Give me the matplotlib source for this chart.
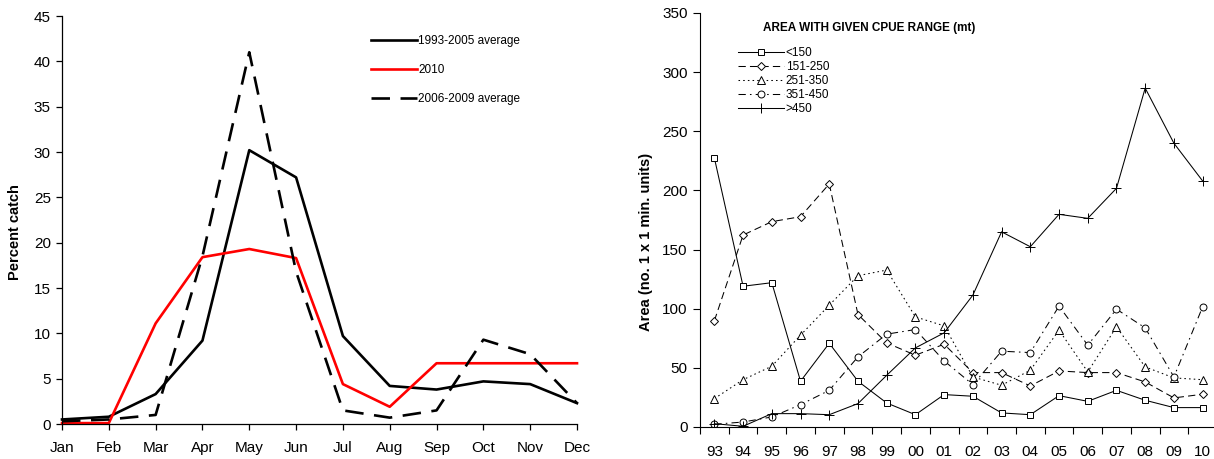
import matplotlib
matplotlib.use("Agg")
import matplotlib.pyplot as plt
import numpy as np

plt.rcParams['font.family'] = ['Liberation Sans', 'DejaVu Sans']

# ---------------- data: left panel ----------------
months = ['Jan', 'Feb', 'Mar', 'Apr', 'May', 'Jun', 'Jul', 'Aug', 'Sep', 'Oct', 'Nov', 'Dec']
avg_1993_2005 = [0.5, 0.8, 3.3, 9.2, 30.2, 27.2, 9.7, 4.2, 3.8, 4.7, 4.4, 2.3]
yr_2010 = [0.1, 0.1, 11.1, 18.4, 19.3, 18.3, 4.4, 1.9, 6.7, 6.7, 6.7, 6.7]
avg_2006_2009 = [0.3, 0.5, 1.0, 18.5, 41.0, 16.8, 1.5, 0.7, 1.5, 9.3, 7.7, 2.3]
left_labels = ['1993-2005 average', '2010', '2006-2009 average']
left_yticks = [0, 5, 10, 15, 20, 25, 30, 35, 40, 45]

# ---------------- data: right panel ----------------
years = ['93', '94', '95', '96', '97', '98', '99', '00', '01', '02',
         '03', '04', '05', '06', '07', '08', '09', '10']
cpue_lt150 = [227.5, 119, 122, 38.7, 70.8, 38.7, 20.3, 10.4, 27.4, 26,
              11.9, 10.4, 26.5, 21.7, 31, 22.6, 16.4, 16.4]
cpue_151_250 = [89.8, 162.3, 173.6, 177.8, 205.5, 95.1, 71.1, 60.7, 70, 46,
                46, 34.7, 47.4, 46, 46, 38.1, 24.6, 27.7]
cpue_251_350 = [24, 40, 51.4, 77.6, 103, 127.9, 132.7, 93.1, 85.5, 42.3,
                35.3, 48, 81.9, 46.6, 84.7, 50.8, 41.5, 40]
cpue_351_450 = [2.3, 4.2, 8.5, 18.9, 31, 59.3, 78.5, 82.4, 55.9, 35.8,
                64.1, 62.9, 102.2, 69.2, 99.6, 83.8, 42.3, 101.6]
cpue_gt450 = [2.8, 0.6, 11.3, 11.3, 10.4, 19.8, 43.7, 66.9, 79.6, 111.5,
              165, 152.4, 179.8, 176.4, 201.8, 286.5, 239.9, 208]
right_labels = ['<150', '151-250', '251-350', '351-450', '>450']
right_yticks = [0, 50, 100, 150, 200, 250, 300, 350]

W, H = 1214, 459
fig = plt.figure(figsize=(W / 100, H / 100), dpi=100)

# ---------------- left panel ----------------
ax1 = fig.add_axes([62 / W, 1 - 424 / H, (577 - 62) / W, (424 - 16) / H])
x = np.arange(len(months))
ax1.plot(x, avg_1993_2005, color='black', lw=1.9, label=left_labels[0], clip_on=False)
ax1.plot(x, yr_2010, color='#ff0000', lw=1.9, label=left_labels[1], clip_on=False)
ax1.plot(x, avg_2006_2009, color='black', lw=1.9, ls=(0, (7, 4)), label=left_labels[2], clip_on=False)
ax1.set_xlim(0, 11)
ax1.set_ylim(0, 45)
ax1.set_xticks(x)
ax1.set_xticklabels(months)
ax1.set_yticks(left_yticks)
ax1.tick_params(axis='x', direction='out', length=4, width=0.9, pad=8, labelsize=11)
ax1.tick_params(axis='y', direction='out', length=4, width=0.9, pad=4, labelsize=11)
for s in ['top', 'right']:
    ax1.spines[s].set_visible(False)
for s in ['left', 'bottom']:
    ax1.spines[s].set_linewidth(0.9)
fig.text(15 / W, 1 - 232 / H, 'Percent catch', rotation=90, ha='center', va='center',
         fontsize=10.5, fontweight='bold')
leg1 = ax1.legend(loc='upper left', bbox_to_anchor=(371 / W, 1 - 35 / H),
                  bbox_transform=fig.transFigure, frameon=False, fontsize=8.5,
                  handlelength=3.9, handletextpad=0.1, labelspacing=1.45, borderpad=0,
                  borderaxespad=0)

# ---------------- right panel ----------------
ax2 = fig.add_axes([700 / W, 1 - 427 / H, 517 / W, (427 - 13) / H])
xr = np.arange(len(years))
mk = dict(markerfacecolor='white', markeredgecolor='black', markeredgewidth=0.7, color='black', lw=0.75)
ax2.plot(xr, cpue_lt150, ls='-', marker='s', markersize=5, label=right_labels[0], **mk)
ax2.plot(xr, cpue_151_250, ls=(0, (7, 4)), marker='D', markersize=3.9, label=right_labels[1], **mk)
ax2.plot(xr, cpue_251_350, ls=(0, (1.5, 3)), marker='^', markersize=6, label=right_labels[2], **mk)
ax2.plot(xr, cpue_351_450, ls=(0, (7, 4, 1.5, 4)), marker='o', markersize=5, label=right_labels[3], **mk)
ax2.plot(xr, cpue_gt450, ls='-', marker='+', markersize=7, label=right_labels[4], **mk)
ax2.set_xlim(-0.5, len(years) - 0.5)
ax2.set_ylim(0, 350)
ax2.set_xticks(np.arange(-0.5, len(years), 1.0))
ax2.set_xticklabels([])
ax2.set_xticks(xr, minor=True)
ax2.set_xticklabels(years, minor=True)
ax2.set_yticks(right_yticks)
ax2.tick_params(axis='x', which='major', direction='out', length=5, width=0.8)
ax2.tick_params(axis='x', which='minor', length=0, pad=13, labelsize=11)
ax2.tick_params(axis='y', direction='out', length=5, width=0.8, pad=4, labelsize=11)
for s in ['top', 'right']:
    ax2.spines[s].set_visible(False)
for s in ['left', 'bottom']:
    ax2.spines[s].set_linewidth(0.8)
fig.text(646 / W, 1 - 242 / H, 'Area (no. 1 x 1 min. units)', rotation=90, ha='center',
         va='center', fontsize=10.5, fontweight='bold')
fig.text(763 / W, 1 - 28 / H, 'AREA WITH GIVEN CPUE RANGE (mt)', ha='left', va='center',
         fontsize=8.5, fontweight='bold')
leg2 = ax2.legend(loc='upper left', bbox_to_anchor=(738 / W, 1 - 47 / H),
                  bbox_transform=fig.transFigure, frameon=False, fontsize=8.5,
                  handlelength=3.9, handletextpad=0.15, labelspacing=0.18, borderpad=0,
                  borderaxespad=0)

fig.savefig('out.png', dpi=100)
